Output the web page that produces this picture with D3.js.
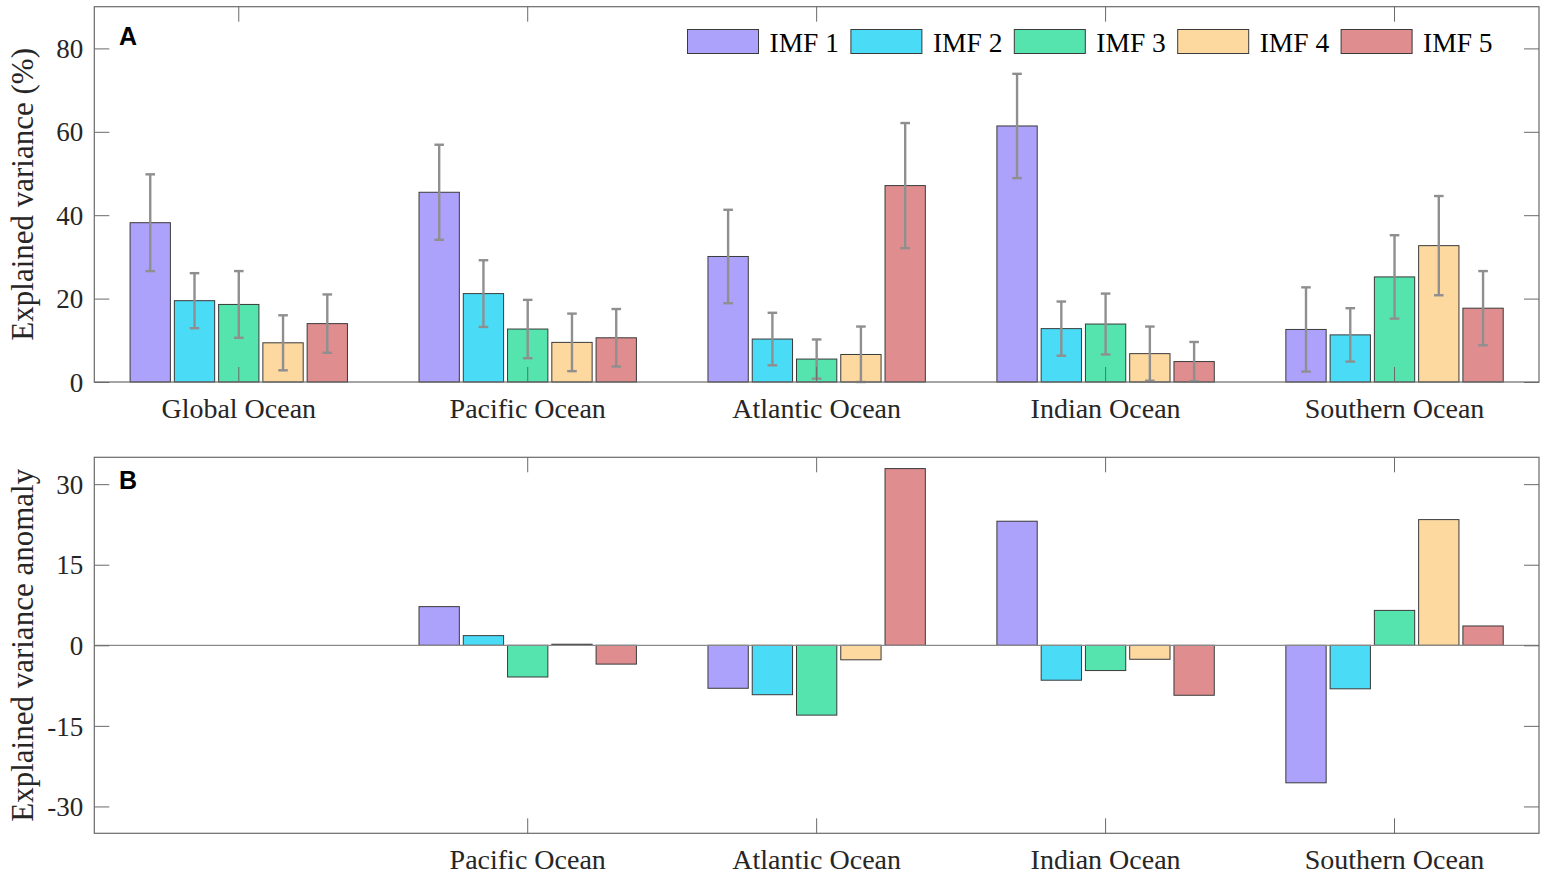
<!DOCTYPE html>
<html>
<head>
<meta charset="utf-8">
<script src="https://cdn.jsdelivr.net/npm/d3@7"></script>
<style>
  html, body { margin: 0; padding: 0; background: #ffffff; }
  svg { display: block; }
</style>
</head>
<body>
<svg id="chart" width="1548" height="878"></svg>
<script>
// ---------------- DATA ----------------
const categories = ["Global Ocean", "Pacific Ocean", "Atlantic Ocean", "Indian Ocean", "Southern Ocean"];
const categoriesB = ["Pacific Ocean", "Atlantic Ocean", "Indian Ocean", "Southern Ocean"];
const seriesNames = ["IMF 1", "IMF 2", "IMF 3", "IMF 4", "IMF 5"];
const seriesColors = ["#ACA1FB", "#4ADBF7", "#55E3AE", "#FDD9A0", "#E08D8F"];

// Panel A: explained variance (%) per category, and error half-widths
const varIMF1 = [38.2, 45.5, 30.1, 61.4, 12.6];
const varIMF2 = [19.5, 21.2, 10.3, 12.8, 11.3];
const varIMF3 = [18.6, 12.7, 5.5, 13.9, 25.2];
const varIMF4 = [9.4, 9.5, 6.6, 6.8, 32.7];
const varIMF5 = [14.0, 10.6, 47.1, 4.9, 17.7];

const errIMF1 = [11.6, 11.4, 11.2, 12.5, 10.1];
const errIMF2 = [6.6, 8.0, 6.3, 6.5, 6.4];
const errIMF3 = [8.0, 7.0, 4.7, 7.3, 10.0];
const errIMF4 = [6.6, 6.9, 6.7, 6.5, 11.9];
const errIMF5 = [7.0, 6.9, 15.0, 4.7, 8.9];

// Panel B: explained variance anomaly (relative to Global Ocean)
const anoIMF1 = [null, 7.2, -8.0, 23.1, -25.6];
const anoIMF2 = [null, 1.8, -9.2, -6.5, -8.1];
const anoIMF3 = [null, -5.9, -13.0, -4.7, 6.5];
const anoIMF4 = [null, 0.2, -2.7, -2.6, 23.4];
const anoIMF5 = [null, -3.5, 32.9, -9.3, 3.6];

const ticksA = [0, 20, 40, 60, 80];
const ticksB = [-30, -15, 0, 15, 30];
const domainA = [0, 90];
const domainB = [-35, 35];

const variances = [varIMF1, varIMF2, varIMF3, varIMF4, varIMF5];
const errors = [errIMF1, errIMF2, errIMF3, errIMF4, errIMF5];
const anomalies = [anoIMF1, anoIMF2, anoIMF3, anoIMF4, anoIMF5];

// ---------------- LAYOUT ----------------
const svg = d3.select("#chart");
const left = 94.3, right = 1539;
const panelA = { top: 6.7, bottom: 382 };
const panelB = { top: 457.3, bottom: 833.3 };
const frameColor = "#6a6a6a";
const textColor = "#262626";
const serif = "'Liberation Serif', 'Times New Roman', serif";
const sans = "'Liberation Sans', Arial, sans-serif";

const x = d3.scaleBand().domain(categories).range([left, right]).paddingInner(0).paddingOuter(0);
const groupW = x.bandwidth() * 0.7523;
const xs = d3.scaleBand().domain(seriesNames).range([-groupW / 2, groupW / 2]).paddingInner(0.0893).paddingOuter(0);

const yA = d3.scaleLinear().domain(domainA).range([panelA.bottom, panelA.top]);
const yB = d3.scaleLinear().domain(domainB).range([panelB.bottom, panelB.top]);

function styleAxis(g) {
  g.select(".domain").remove();
  g.selectAll(".tick line").attr("stroke", frameColor).attr("stroke-width", 1);
  g.selectAll("text").attr("fill", textColor).attr("font-family", serif);
}

// ---------------- PANEL A ----------------
const gA = svg.append("g");
const barsA = [];
seriesNames.forEach((s, si) => {
  categories.forEach((c, ci) => {
    barsA.push({ s, si, c, v: variances[si][ci], e: errors[si][ci] });
  });
});

gA.selectAll("rect.bar").data(barsA).join("rect")
  .attr("class", "bar")
  .attr("x", d => x(d.c) + x.bandwidth() / 2 + xs(d.s))
  .attr("width", xs.bandwidth())
  .attr("y", d => yA(d.v))
  .attr("height", d => yA(0) - yA(d.v))
  .attr("fill", d => seriesColors[d.si])
  .attr("stroke", "#3a3a3a")
  .attr("stroke-width", 1);

const errG = gA.append("g").attr("stroke", "#8f8f8f").attr("stroke-width", 2.4).attr("fill", "none");
barsA.forEach(d => {
  const cx = x(d.c) + x.bandwidth() / 2 + xs(d.s) + xs.bandwidth() / 2;
  const y1 = yA(d.v + d.e), y0 = yA(Math.max(d.v - d.e, domainA[0]));
  errG.append("line").attr("x1", cx).attr("x2", cx).attr("y1", y1).attr("y2", y0);
  errG.append("line").attr("x1", cx - 4.8).attr("x2", cx + 4.8).attr("y1", y1).attr("y2", y1);
  errG.append("line").attr("x1", cx - 4.8).attr("x2", cx + 4.8).attr("y1", y0).attr("y2", y0);
});

// axes A
gA.append("g").attr("transform", `translate(${left},0)`)
  .call(d3.axisLeft(yA).tickValues(ticksA).tickSize(-15).tickPadding(11))
  .call(styleAxis)
  .call(g => g.selectAll("text").attr("font-size", 27).attr("dy", "0.34em"));
gA.append("g").attr("transform", `translate(${right},0)`)
  .call(d3.axisRight(yA).tickValues(ticksA).tickSize(-15).tickFormat(""))
  .call(styleAxis);
gA.append("g").attr("transform", `translate(0,${panelA.bottom})`)
  .call(d3.axisBottom(x).tickSize(-15).tickPadding(16))
  .call(styleAxis)
  .call(g => g.selectAll("text").attr("font-size", 28).attr("y", 36).attr("dy", 0));
gA.append("g").attr("transform", `translate(0,${panelA.top})`)
  .call(d3.axisTop(x).tickSize(-15).tickFormat(""))
  .call(styleAxis);
gA.append("rect")
  .attr("x", left).attr("y", panelA.top)
  .attr("width", right - left).attr("height", panelA.bottom - panelA.top)
  .attr("fill", "none").attr("stroke", frameColor).attr("stroke-width", 1.2);

gA.append("text")
  .attr("transform", `translate(33,${(panelA.top + panelA.bottom) / 2}) rotate(-90)`)
  .attr("text-anchor", "middle")
  .attr("font-family", serif).attr("font-size", 31).attr("fill", textColor)
  .text("Explained variance (%)");

gA.append("text").attr("x", 119).attr("y", 44.5)
  .attr("font-family", sans).attr("font-weight", "bold")
  .attr("font-size", 25).attr("fill", "#000").text("A");

// legend
const legend = gA.append("g");
const legX0 = 687.5, legStep = 163.4;
seriesNames.forEach((s, i) => {
  const lx = legX0 + i * legStep;
  legend.append("rect").attr("x", lx).attr("y", 29.5).attr("width", 71).attr("height", 24)
    .attr("fill", seriesColors[i]).attr("stroke", "#3a3a3a").attr("stroke-width", 1);
  legend.append("text").attr("x", lx + 82).attr("y", 52.3)
    .attr("font-family", serif).attr("font-size", 27.5).attr("fill", "#000").text(s);
});

// ---------------- PANEL B ----------------
const gB = svg.append("g");
const barsB = [];
seriesNames.forEach((s, si) => {
  categories.forEach((c, ci) => {
    const v = anomalies[si][ci];
    if (v !== null) barsB.push({ s, si, c, v });
  });
});

gB.selectAll("rect.bar").data(barsB).join("rect")
  .attr("class", "bar")
  .attr("x", d => x(d.c) + x.bandwidth() / 2 + xs(d.s))
  .attr("width", xs.bandwidth())
  .attr("y", d => yB(Math.max(0, d.v)))
  .attr("height", d => Math.abs(yB(d.v) - yB(0)))
  .attr("fill", d => seriesColors[d.si])
  .attr("stroke", "#3a3a3a")
  .attr("stroke-width", 1);

gB.append("line")
  .attr("x1", left).attr("x2", right).attr("y1", yB(0)).attr("y2", yB(0))
  .attr("stroke", "#8a8a8a").attr("stroke-width", 1.2);

gB.append("g").attr("transform", `translate(${left},0)`)
  .call(d3.axisLeft(yB).tickValues(ticksB).tickSize(-15).tickPadding(11).tickFormat(d => d < 0 ? "-" + Math.abs(d) : String(d)))
  .call(styleAxis)
  .call(g => g.selectAll("text").attr("font-size", 27).attr("dy", "0.34em"));
gB.append("g").attr("transform", `translate(${right},0)`)
  .call(d3.axisRight(yB).tickValues(ticksB).tickSize(-15).tickFormat(""))
  .call(styleAxis);
gB.append("g").attr("transform", `translate(0,${panelB.bottom})`)
  .call(d3.axisBottom(x).tickValues(categoriesB).tickSize(-15).tickPadding(16))
  .call(styleAxis)
  .call(g => g.selectAll("text").attr("font-size", 28).attr("y", 36).attr("dy", 0));
gB.append("g").attr("transform", `translate(0,${panelB.top})`)
  .call(d3.axisTop(x).tickValues(categoriesB).tickSize(-15).tickFormat(""))
  .call(styleAxis);
gB.append("rect")
  .attr("x", left).attr("y", panelB.top)
  .attr("width", right - left).attr("height", panelB.bottom - panelB.top)
  .attr("fill", "none").attr("stroke", frameColor).attr("stroke-width", 1.2);

gB.append("text")
  .attr("transform", `translate(33,${(panelB.top + panelB.bottom) / 2}) rotate(-90)`)
  .attr("text-anchor", "middle")
  .attr("font-family", serif).attr("font-size", 31).attr("fill", textColor)
  .text("Explained variance anomaly");

gB.append("text").attr("x", 119).attr("y", 488.5)
  .attr("font-family", sans).attr("font-weight", "bold")
  .attr("font-size", 25).attr("fill", "#000").text("B");
</script>
</body>
</html>
